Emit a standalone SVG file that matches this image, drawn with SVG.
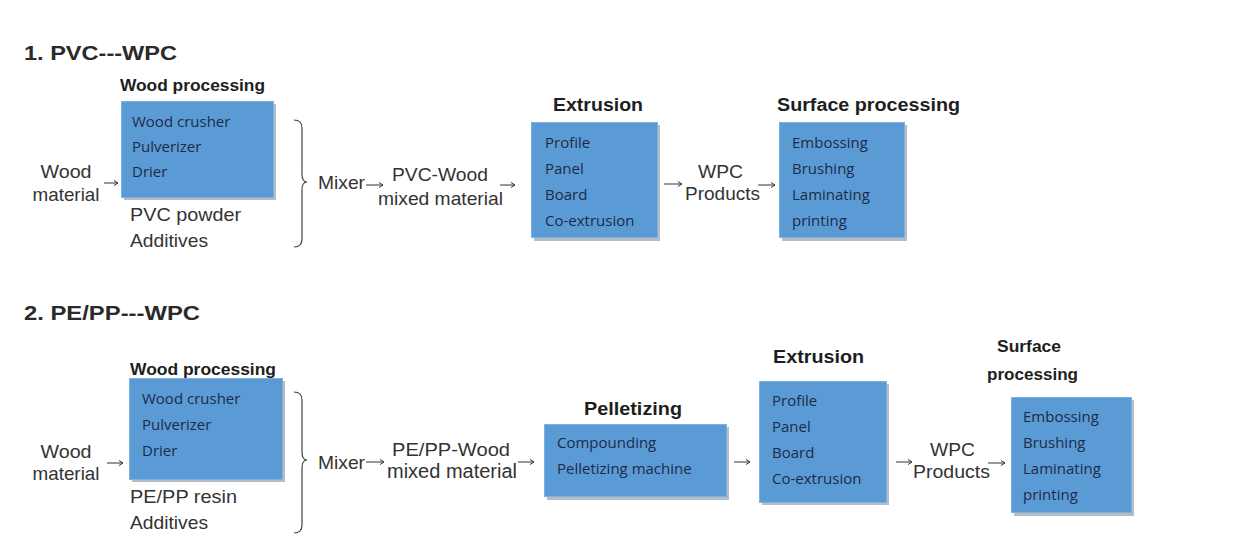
<svg xmlns="http://www.w3.org/2000/svg" width="1239" height="558" viewBox="0 0 1239 558">
<defs>
<marker id="ah" markerWidth="8" markerHeight="8" refX="6" refY="4" orient="auto" markerUnits="userSpaceOnUse">
<path d="M2,1.5 L6,4 L2,6.5" fill="none" stroke="#333" stroke-width="1"/>
</marker>
</defs>
<style>
.sec{font-family:"Liberation Sans",Arial,sans-serif;font-weight:bold;font-size:21px;fill:#2a2a2a}
.ttl{font-family:"Liberation Sans",Arial,sans-serif;font-weight:bold;font-size:18px;fill:#1e1e1e}
.ttls{font-family:"Liberation Sans",Arial,sans-serif;font-weight:bold;font-size:16px;fill:#1e1e1e}
.lbl{font-family:"Liberation Sans",Arial,sans-serif;font-size:18.5px;fill:#333}
.bx{fill:#5b9bd5;stroke:#7fb1e0;stroke-width:1}
.sh{fill:#b4bcc6}
.bt{font-family:"Open Sans","Noto Sans",sans-serif;font-size:15px;fill:#1d2b47}
.arr{stroke:#333;stroke-width:1;fill:none;marker-end:url(#ah)}
.br{stroke:#444;stroke-width:1.2;fill:none}
</style>
<rect width="1239" height="558" fill="#ffffff"/>

<text class="sec" x="24" y="60" textLength="153" lengthAdjust="spacingAndGlyphs">1. PVC---WPC</text>
<text class="sec" x="24" y="320" textLength="176" lengthAdjust="spacingAndGlyphs">2. PE/PP---WPC</text>

<!-- Section 1 -->
<g id="wood-material-1">
<text class="lbl" x="66" y="178" text-anchor="middle" textLength="51" lengthAdjust="spacingAndGlyphs">Wood</text>
<text class="lbl" x="66" y="201" text-anchor="middle" textLength="67" lengthAdjust="spacingAndGlyphs">material</text>
</g>
<g id="wood-processing-1">
<text class="ttls" x="120" y="91" textLength="145" lengthAdjust="spacingAndGlyphs">Wood processing</text>
<rect class="sh" x="124" y="104" width="152" height="96"/>
<rect class="bx" x="121.5" y="101.5" width="152" height="96"/>
<text class="bt" x="132" y="127">Wood crusher</text>
<text class="bt" x="132" y="152">Pulverizer</text>
<text class="bt" x="132" y="177">Drier</text>
</g>
<g id="pvc-inputs-1">
<text class="lbl" x="130" y="221" textLength="111" lengthAdjust="spacingAndGlyphs">PVC powder</text>
<text class="lbl" x="130" y="247" textLength="78" lengthAdjust="spacingAndGlyphs">Additives</text>
</g>
<g id="mixer-1"><text class="lbl" x="318" y="189" textLength="47" lengthAdjust="spacingAndGlyphs">Mixer</text></g>
<g id="mixed-1">
<text class="lbl" x="392" y="181" textLength="96" lengthAdjust="spacingAndGlyphs">PVC-Wood</text>
<text class="lbl" x="378" y="205" textLength="125" lengthAdjust="spacingAndGlyphs">mixed material</text>
</g>
<g id="extrusion-1">
<text class="ttl" x="553" y="111" textLength="90" lengthAdjust="spacingAndGlyphs">Extrusion</text>
<rect class="sh" x="534" y="125" width="126" height="116"/>
<rect class="bx" x="531.5" y="122.5" width="126" height="115"/>
<text class="bt" x="545" y="148">Profile</text>
<text class="bt" x="545" y="174">Panel</text>
<text class="bt" x="545" y="200">Board</text>
<text class="bt" x="545" y="226">Co-extrusion</text>
</g>
<g id="wpc-1">
<text class="lbl" x="698" y="178" textLength="45" lengthAdjust="spacingAndGlyphs">WPC</text>
<text class="lbl" x="685" y="200" textLength="75" lengthAdjust="spacingAndGlyphs">Products</text>
</g>
<g id="surface-1">
<text class="ttl" x="777" y="111" textLength="183" lengthAdjust="spacingAndGlyphs">Surface processing</text>
<rect class="sh" x="782" y="125" width="125" height="116"/>
<rect class="bx" x="779.5" y="122.5" width="125" height="115"/>
<text class="bt" x="792" y="148">Embossing</text>
<text class="bt" x="792" y="174">Brushing</text>
<text class="bt" x="792" y="200">Laminating</text>
<text class="bt" x="792" y="226">printing</text>
</g>

<!-- Section 2 -->
<g id="wood-material-2">
<text class="lbl" x="66" y="458" text-anchor="middle" textLength="51" lengthAdjust="spacingAndGlyphs">Wood</text>
<text class="lbl" x="66" y="480" text-anchor="middle" textLength="67" lengthAdjust="spacingAndGlyphs">material</text>
</g>
<g id="wood-processing-2">
<text class="ttls" x="130" y="375" textLength="146" lengthAdjust="spacingAndGlyphs">Wood processing</text>
<rect class="sh" x="132" y="381" width="153" height="101"/>
<rect class="bx" x="129.5" y="378.5" width="153" height="101"/>
<text class="bt" x="142" y="404">Wood crusher</text>
<text class="bt" x="142" y="430">Pulverizer</text>
<text class="bt" x="142" y="456">Drier</text>
</g>
<g id="pepp-inputs-2">
<text class="lbl" x="130" y="503" textLength="107" lengthAdjust="spacingAndGlyphs">PE/PP resin</text>
<text class="lbl" x="130" y="529" textLength="78" lengthAdjust="spacingAndGlyphs">Additives</text>
</g>
<g id="mixer-2"><text class="lbl" x="318" y="469" textLength="47" lengthAdjust="spacingAndGlyphs">Mixer</text></g>
<g id="mixed-2">
<text class="lbl" x="392" y="456" textLength="118" lengthAdjust="spacingAndGlyphs">PE/PP-Wood</text>
<text class="lbl" x="387" y="478" style="font-size:20px" textLength="130" lengthAdjust="spacingAndGlyphs">mixed material</text>
</g>
<g id="pelletizing-2">
<text class="ttl" x="584" y="415" textLength="98" lengthAdjust="spacingAndGlyphs">Pelletizing</text>
<rect class="sh" x="547" y="427" width="182" height="73"/>
<rect class="bx" x="544.5" y="424.5" width="182" height="72"/>
<text class="bt" x="557" y="448">Compounding</text>
<text class="bt" x="557" y="474">Pelletizing machine</text>
</g>
<g id="extrusion-2">
<text class="ttl" x="773" y="363" textLength="91" lengthAdjust="spacingAndGlyphs">Extrusion</text>
<rect class="sh" x="762" y="384" width="127" height="121"/>
<rect class="bx" x="759.5" y="381.5" width="127" height="121"/>
<text class="bt" x="772" y="406">Profile</text>
<text class="bt" x="772" y="432">Panel</text>
<text class="bt" x="772" y="458">Board</text>
<text class="bt" x="772" y="484">Co-extrusion</text>
</g>
<g id="wpc-2">
<text class="lbl" x="930" y="456" textLength="45" lengthAdjust="spacingAndGlyphs">WPC</text>
<text class="lbl" x="913" y="478" textLength="77" lengthAdjust="spacingAndGlyphs">Products</text>
</g>
<g id="surface-2">
<text class="ttls" x="997" y="352" textLength="64" lengthAdjust="spacingAndGlyphs">Surface</text>
<text class="ttls" x="987" y="380" textLength="91" lengthAdjust="spacingAndGlyphs">processing</text>
<rect class="sh" x="1014" y="400" width="120" height="116"/>
<rect class="bx" x="1011.5" y="397.5" width="120" height="115"/>
<text class="bt" x="1023" y="422">Embossing</text>
<text class="bt" x="1023" y="448">Brushing</text>
<text class="bt" x="1023" y="474">Laminating</text>
<text class="bt" x="1023" y="500">printing</text>
</g>

<g id="connectors">
<!-- section 1 -->
<line class="arr" x1="104" y1="183" x2="118" y2="183"/>
<path class="br" d="M294,120 Q302,120 302,128 L302,174 Q302,182 307,182 Q302,182 302,190 L302,239 Q302,247 294,247"/>
<line class="arr" x1="366" y1="185" x2="383" y2="185"/>
<line class="arr" x1="500" y1="185" x2="515" y2="185"/>
<line class="arr" x1="664" y1="184" x2="682" y2="184"/>
<line class="arr" x1="758" y1="185" x2="775" y2="185"/>
<!-- section 2 -->
<line class="arr" x1="107" y1="463" x2="123" y2="463"/>
<path class="br" d="M294,392 Q302,392 302,400 L302,452 Q302,460 307,460 Q302,460 302,468 L302,525 Q302,533 294,533"/>
<line class="arr" x1="366" y1="462" x2="384" y2="462"/>
<line class="arr" x1="518" y1="462" x2="534" y2="462"/>
<line class="arr" x1="734" y1="462" x2="750" y2="462"/>
<line class="arr" x1="896" y1="462" x2="912" y2="462"/>
<line class="arr" x1="988" y1="463" x2="1005" y2="463"/>
</g>
</svg>
